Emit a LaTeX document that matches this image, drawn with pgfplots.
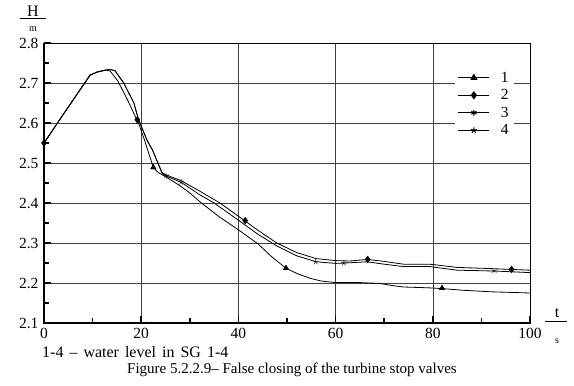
\documentclass[border=0pt]{standalone}
\usepackage{fontspec}
\setmainfont{Liberation Serif}
\usepackage{pgfplots}
\pgfplotsset{compat=1.18}
\begin{document}
\begin{tikzpicture}
\begin{axis}[
  scale only axis, width=486pt, height=280pt,
  xmin=0, xmax=100, ymin=2.1, ymax=2.8,
  xtick={0,20,40,60,80,100},
  ytick={2.1,2.2,2.3,2.4,2.5,2.6,2.7,2.8},
  minor xtick={10,30,50,70,90},
  minor ytick={2.15,2.25,2.35,2.45,2.55,2.65,2.75},
  xtick pos=bottom, ytick pos=left,
  tick align=inside,
  major tick length=7pt, minor tick length=5pt,
  every tick/.style={black, line width=1.6pt},
  grid=major,
  major grid style={black!75, line width=0.6pt},
  axis line style={black, line width=0.6pt},
  /pgf/number format/assume math mode=true,
  yticklabel style={/pgf/number format/fixed, /pgf/number format/fixed zerofill, /pgf/number format/precision=1, xshift=-2pt},
  xticklabel style={yshift=-2pt},
  ticklabel style={font=\fontsize{15.5}{15.5}\selectfont},
  legend style={at={(0.845,0.915)}, anchor=north west, draw=none, fill=white,
    font=\fontsize{15.5}{15.5}\selectfont,
    nodes={text height=11.5pt, text depth=3pt, inner ysep=1.5pt},
    /tikz/every odd column/.append style={column sep=9pt}},
  legend cell align=left,
  legend image code/.code={\draw[mark repeat=2,mark phase=2] plot coordinates {(0pt,0pt) (15.5pt,0pt) (31pt,0pt)};},
  clip=false,
]
% curve 1
\addplot[black, line width=0.8pt, forget plot] coordinates {
(0,2.550) (5,2.640) (9.5,2.720) (11,2.727) (12.8,2.733) (13.6,2.730) (15.2,2.705)
(17.3,2.655) (19.6,2.595) (20.6,2.560) (22.5,2.489) (23.5,2.476) (25,2.466)
(28,2.443) (30,2.425) (32.4,2.400) (36,2.366) (40,2.333) (44,2.298) (47,2.264)
(49.8,2.237) (52,2.224) (54.7,2.212) (57,2.205) (60,2.201) (65,2.201) (69,2.199)
(72,2.193) (74,2.190) (79,2.188) (82,2.186) (86,2.182) (92,2.178) (100,2.175)};
% curve 2
\addplot[black, line width=0.8pt, forget plot] coordinates {
(0,2.550) (5,2.640) (9.5,2.720) (11,2.728) (13.5,2.734) (14.6,2.731) (16.4,2.700)
(18.5,2.650) (19.4,2.610) (21.2,2.557) (22.3,2.533) (24.3,2.476) (25.2,2.470)
(28.2,2.456) (32,2.430) (36.2,2.400) (40,2.367) (44,2.332) (47.9,2.300) (52,2.276)
(56,2.261) (60,2.256) (63,2.255) (66.5,2.259) (70,2.254) (74,2.247) (79.4,2.247)
(85,2.239) (92,2.236) (96,2.234) (100,2.232)};
% curves 3 and 4
\addplot[black, line width=0.8pt, forget plot] coordinates {
(0,2.550) (5,2.640) (9.5,2.720) (11,2.728) (13.5,2.734) (14.6,2.731) (16.4,2.700)
(18.5,2.650) (19.4,2.610) (21.2,2.557) (22.3,2.533) (24.3,2.474) (25.2,2.467)
(28.2,2.452) (32,2.421) (35,2.400) (40,2.357) (44,2.322) (48,2.292) (52,2.268)
(56,2.253) (60,2.249) (62,2.250) (66.5,2.253) (70,2.247) (74,2.241) (79.4,2.241)
(85,2.232) (92.6,2.230) (100,2.226)};
% markers
\addplot[black, only marks, mark=triangle*, mark size=3.2pt, forget plot] coordinates {(22.5,2.489) (49.8,2.237) (81.9,2.187)};
\addplot[black, only marks, mark=diamond*, mark size=3.4pt, forget plot] coordinates {(0,2.55) (19.2,2.608) (41.4,2.356) (66.6,2.259) (96.2,2.234)};
\addplot[black, only marks, mark=asterisk, mark size=3pt, forget plot] coordinates {(25.2,2.467) (92.6,2.230)};
\addplot[black, only marks, mark=star, mark size=3pt, forget plot] coordinates {(28.2,2.452) (55.9,2.253) (61.7,2.250)};
\addlegendimage{black, line width=1pt, mark=triangle*, mark size=3.2pt}
\addlegendentry{1}
\addlegendimage{black, line width=1pt, mark=diamond*, mark size=3.4pt}
\addlegendentry{2}
\addlegendimage{black, line width=1pt, mark=asterisk, mark size=3pt}
\addlegendentry{3}
\addlegendimage{black, line width=1pt, mark=star, mark size=3pt}
\addlegendentry{4}
\end{axis}
\draw[black, line width=1.6pt] (current axis.north west) -- (current axis.south west) -- (current axis.south east);
\begin{scope}[shift={(current axis.south west)}, x=1pt, y=1pt]
  \node[font=\fontsize{16}{16}\selectfont, inner sep=0pt] at (-11,312) {H};
  \draw[line width=0.6pt] (-24,305) -- (2,305);
  \node[font=\fontsize{10}{10}\selectfont, inner sep=0pt] at (-11,294) {m};
  \node[font=\fontsize{16}{16}\selectfont, inner sep=0pt] at (513,10) {t};
  \draw[line width=0.6pt] (501,2) -- (523,2);
  \node[font=\fontsize{10}{10}\selectfont, inner sep=0pt] at (513,-18) {s};
  \node[font=\fontsize{16}{16}\selectfont, anchor=west, inner sep=0pt] at (-2,-29) {\spaceskip=6pt 1-4 – water level in SG 1-4};
  \node[font=\fontsize{15}{15}\selectfont, inner sep=0pt] at (248,-47) {Figure 5.2.2.9– False closing of the turbine stop valves};
\end{scope}
\pgfresetboundingbox
\path[use as bounding box] (current axis.south west) ++(-44pt,-63pt) rectangle ++(574pt,386pt);
\end{tikzpicture}
\end{document}
